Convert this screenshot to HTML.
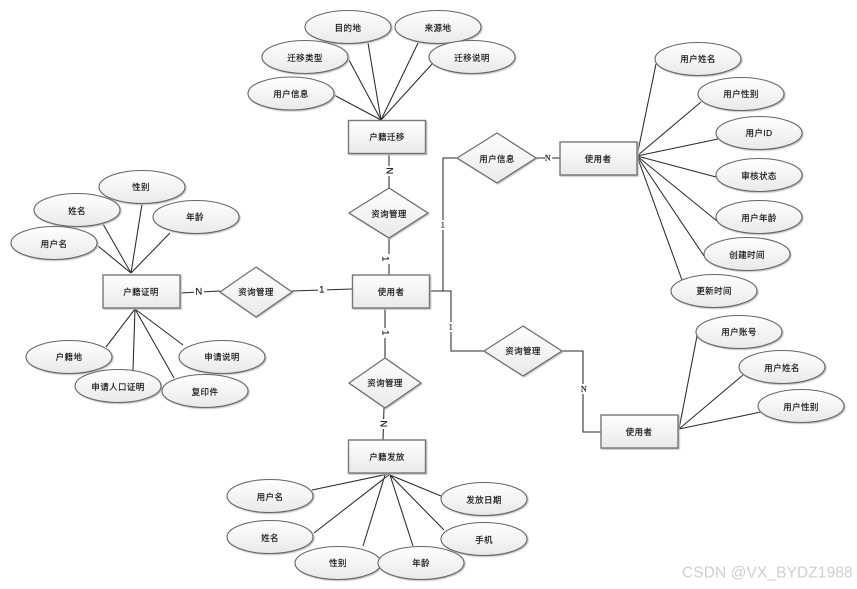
<!DOCTYPE html>
<html lang="zh">
<head>
<meta charset="utf-8">
<title>ER Diagram</title>
<style>
html,body{margin:0;padding:0;background:#fff;width:857px;height:589px;overflow:hidden}
svg{display:block}
.l{stroke:#2a2a2a;stroke-width:1.05;fill:none}
.s{fill:url(#g);stroke:#666;stroke-width:1.1;filter:drop-shadow(1px 1px 0.6px #bbb)}
.r{fill:url(#g);stroke:#777;stroke-width:1.4;filter:drop-shadow(1px 1px 0.6px #bbb)}
text{font-family:"Liberation Sans","WenQuanYi Zen Hei","Noto Sans CJK SC",sans-serif;font-size:8.5px;fill:#111;stroke:#111;stroke-width:.15px;text-anchor:middle;dominant-baseline:central;letter-spacing:.4px}
.c{font-size:9.5px;font-family:"Liberation Sans",sans-serif}
.k{font-size:8px;font-family:"Liberation Serif",serif}
.w{font-family:"Liberation Sans",sans-serif;font-size:15.4px;fill:#cfcfcf;stroke:none;text-anchor:start;letter-spacing:.17px}
</style>
</head>
<body>
<svg width="857" height="589" viewBox="0 0 857 589" xmlns="http://www.w3.org/2000/svg">
<defs>
<linearGradient id="g" x1="0" y1="0" x2="0" y2="1">
<stop offset="0" stop-color="#ffffff"/>
<stop offset="1" stop-color="#e9e9e9"/>
</linearGradient>
</defs>

<!-- connectors -->
<g class="l">
<path d="M381 120L334 95M381 120L349 60M381 120L368 43M381 120L418 43M381 120L432 64"/>
<path d="M389 153V188M389 238V275"/>
<path d="M131 273L98 246M131 273L103 224M131 273L142 204M131 273L170 233"/>
<path d="M135 309L106 347M135 309L133 370M135 309L174 378M135 309L183 345"/>
<path d="M180 293L220 291M292 291L352 289"/>
<path d="M385 308V358M384 408L383 440"/>
<path d="M312 490L393 473M314 533L390 474M363 546L385 475M413 546L390 475M444 530L390 475M441 496L390 475"/>
<path d="M429 291H443V158H457M429 291H451V351H484"/>
<path d="M536 158H560M562 351H583V432H601"/>
<path d="M637 156L656 64M637 156L701 102M637 156L718 139M637 156L716 177M637 156L717 221M637 156L704 256M637 156L682 280"/>
<path d="M679 429L697 336M679 429L743 375M679 429L761 412"/>
</g>

<!-- connector label backgrounds -->
<g fill="#fff">
<rect x="384" y="166" width="10" height="10"/>
<rect x="380" y="254" width="10" height="10"/>
<rect x="194" y="287" width="10" height="10"/>
<rect x="318" y="285" width="9" height="10"/>
<rect x="380" y="328" width="10" height="10"/>
<rect x="378" y="419" width="10" height="10"/>
<rect x="440" y="220" width="6" height="10"/>
<rect x="448" y="322" width="6" height="10"/>
<rect x="545" y="153" width="7" height="10"/>
<rect x="581" y="384" width="6" height="10"/>
</g>

<!-- entities -->
<g class="r">
<rect x="348.500" y="120.500" width="77" height="33"/>
<rect x="103" y="275" width="77" height="33"/>
<rect x="352.500" y="275" width="77" height="33"/>
<rect x="348.500" y="440" width="77" height="33"/>
<rect x="560" y="142" width="77" height="33"/>
<rect x="601" y="415" width="77" height="33"/>
</g>

<!-- relationships -->
<g class="s">
<polygon points="497,133 536,158 497,183 457,158"/>
<polygon points="389,188 428,213 389,238 349,213"/>
<polygon points="256,267 292,292 256,317 220,292"/>
<polygon points="385,358 421,383 385,408 349,383"/>
<polygon points="523,326 562,351 523,376 484,351"/>
</g>

<!-- attributes -->
<g class="s">
<ellipse cx="348" cy="27" rx="43" ry="16.500"/>
<ellipse cx="438" cy="27" rx="43" ry="16.500"/>
<ellipse cx="305" cy="57" rx="43" ry="16.500"/>
<ellipse cx="472" cy="57" rx="43" ry="16.500"/>
<ellipse cx="291" cy="93.500" rx="43" ry="16.500"/>
<ellipse cx="142" cy="187" rx="43" ry="16.500"/>
<ellipse cx="77" cy="210" rx="43" ry="16.500"/>
<ellipse cx="196" cy="217" rx="43" ry="16.500"/>
<ellipse cx="54" cy="243" rx="43" ry="16.500"/>
<ellipse cx="69" cy="357" rx="43" ry="16.500"/>
<ellipse cx="222" cy="357" rx="43" ry="16.500"/>
<ellipse cx="118" cy="386" rx="43" ry="16.500"/>
<ellipse cx="205" cy="391" rx="43" ry="16.500"/>
<ellipse cx="270" cy="496" rx="43" ry="16.500"/>
<ellipse cx="270" cy="537" rx="43" ry="16.500"/>
<ellipse cx="338" cy="563" rx="43" ry="16.500"/>
<ellipse cx="421" cy="563" rx="43" ry="16.500"/>
<ellipse cx="484" cy="499" rx="43" ry="16.500"/>
<ellipse cx="484" cy="539" rx="43" ry="16.500"/>
<ellipse cx="698" cy="59" rx="43" ry="16.500"/>
<ellipse cx="741" cy="94" rx="43" ry="16.500"/>
<ellipse cx="759" cy="133" rx="43" ry="16.500"/>
<ellipse cx="759" cy="175" rx="43" ry="16.500"/>
<ellipse cx="759" cy="217" rx="43" ry="16.500"/>
<ellipse cx="747" cy="254" rx="43" ry="16.500"/>
<ellipse cx="714" cy="291" rx="43" ry="16.500"/>
<ellipse cx="739" cy="332" rx="43" ry="16.500"/>
<ellipse cx="782" cy="367" rx="43" ry="16.500"/>
<ellipse cx="801" cy="406" rx="43" ry="16.500"/>
</g>

<!-- labels -->
<g>
<text x="348" y="28">目的地</text>
<text x="438" y="28">来源地</text>
<text x="305" y="58">迁移类型</text>
<text x="472" y="58">迁移说明</text>
<text x="291" y="94">用户信息</text>
<text x="387" y="137">户籍迁移</text>
<text x="497" y="159">用户信息</text>
<text x="598" y="159">使用者</text>
<text x="389" y="214">资询管理</text>
<text x="141" y="187">性别</text>
<text x="77" y="211">姓名</text>
<text x="195" y="217">年龄</text>
<text x="54" y="244">用户名</text>
<text x="141" y="292">户籍证明</text>
<text x="256" y="292">资询管理</text>
<text x="391" y="292">使用者</text>
<text x="385" y="383">资询管理</text>
<text x="523" y="351">资询管理</text>
<text x="69" y="357">户籍地</text>
<text x="222" y="357">申请说明</text>
<text x="118" y="387">申请人口证明</text>
<text x="205" y="392">复印件</text>
<text x="387" y="457">户籍发放</text>
<text x="270" y="497">用户名</text>
<text x="270" y="538">姓名</text>
<text x="338" y="563">性别</text>
<text x="421" y="563">年龄</text>
<text x="484" y="500">发放日期</text>
<text x="484" y="540">手机</text>
<text x="698" y="59">用户姓名</text>
<text x="741" y="94">用户性别</text>
<text x="759" y="133">用户ID</text>
<text x="759" y="176">审核状态</text>
<text x="759" y="218">用户年龄</text>
<text x="747" y="255">创建时间</text>
<text x="714" y="291">更新时间</text>
<text x="739" y="332">用户账号</text>
<text x="782" y="368">用户姓名</text>
<text x="801" y="407">用户性别</text>
<text x="639" y="432">使用者</text>

<text class="c" x="389" y="171" transform="rotate(90 389 171)">N</text>
<text class="c" x="385" y="259" transform="rotate(90 385 259)">1</text>
<text class="c" x="199" y="292">N</text>
<text class="c" x="322" y="290">1</text>
<text class="c" x="385" y="333" transform="rotate(90 385 333)">1</text>
<text class="c" x="383" y="424" transform="rotate(90 383 424)">N</text>
<text class="k" x="443" y="225">1</text>
<text class="k" x="451" y="327">1</text>
<text class="k" x="548" y="158">N</text>
<text class="k" x="584" y="389">N</text>

<text class="w" x="682" y="573">CSDN @VX_BYDZ1988</text>
</g>
</svg>
</body>
</html>
